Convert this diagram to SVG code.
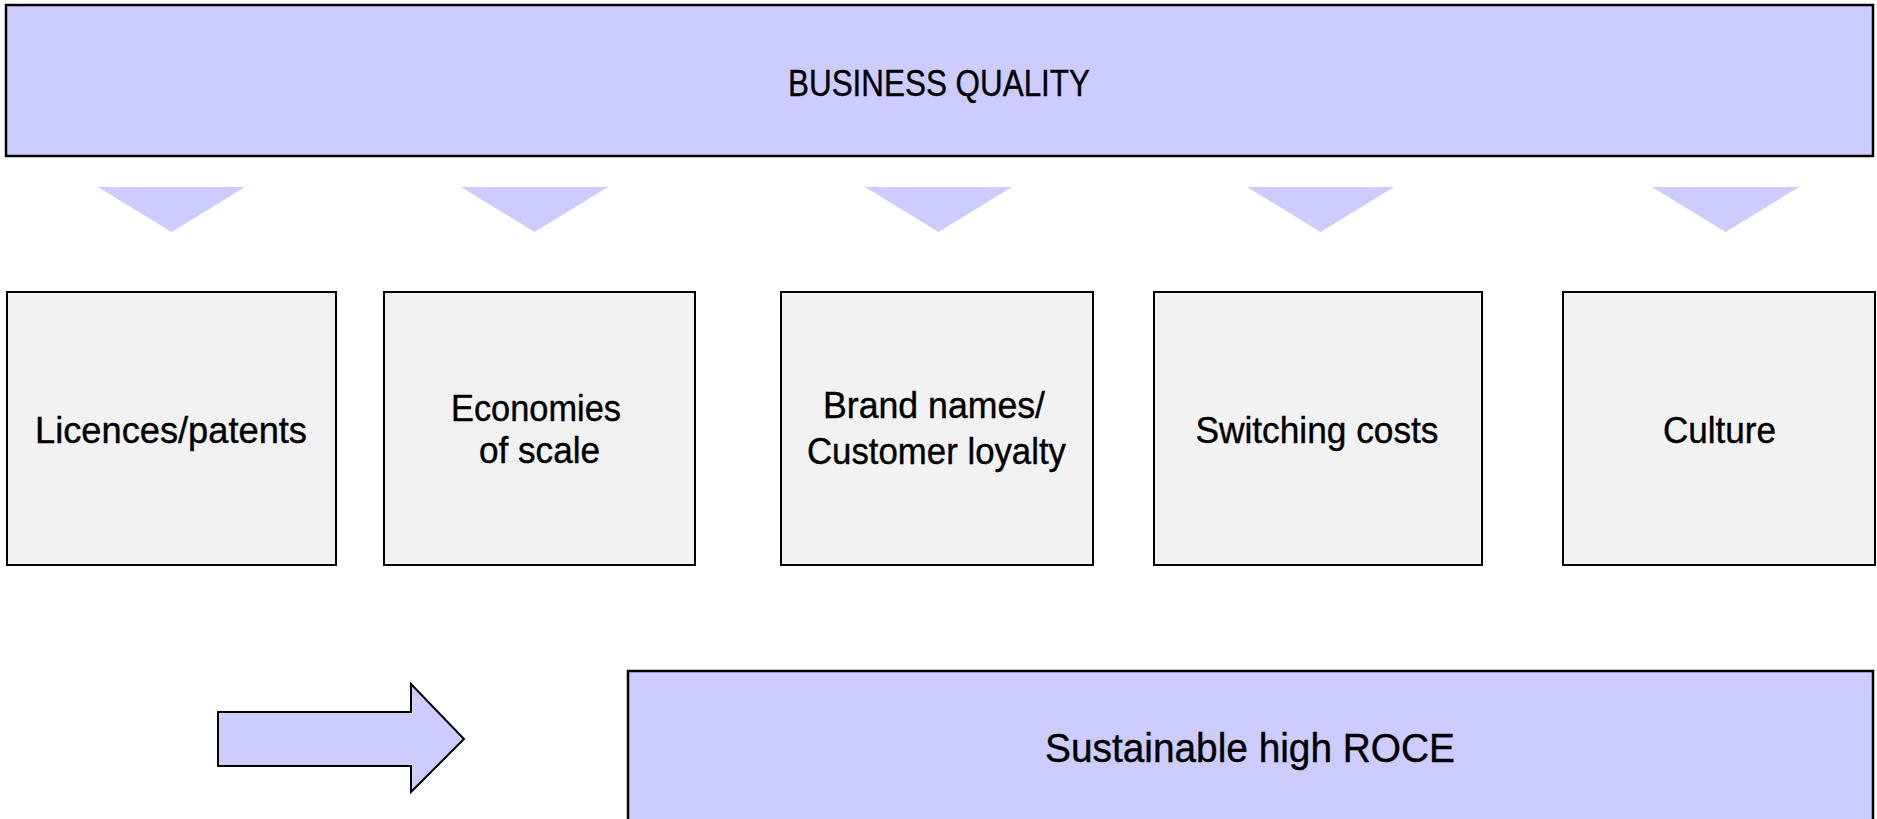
<svg xmlns="http://www.w3.org/2000/svg" width="1877" height="819" viewBox="0 0 1877 819">
  <style>
    .band { fill: #CCCCFF; stroke: #000; stroke-width: 2.5; }
    .box { fill: #F2F2F2; stroke: #000; stroke-width: 2; }
    .tri { fill: #CCCCFF; stroke: none; }
    .lbl { font-family: "Liberation Sans", Arial, sans-serif; font-size: 36px; fill: #000; stroke: #000; stroke-width: 0.4; text-anchor: middle; }
    .big { font-size: 40px; }
  </style>
  <rect width="1877" height="819" fill="#fff"/>

  <g id="business-quality">
    <rect class="band" x="6" y="5" width="1867" height="151"/>
    <text class="lbl" x="939" y="96" textLength="302" lengthAdjust="spacingAndGlyphs">BUSINESS QUALITY</text>
  </g>

  <g id="connectors">
    <polygon class="tri" points="98,187 245,187 171.5,232"/>
    <polygon class="tri" points="461,187 608,187 534.5,232"/>
    <polygon class="tri" points="865,187 1012,187 938.5,232"/>
    <polygon class="tri" points="1247,187 1394,187 1320.5,232"/>
    <polygon class="tri" points="1652,187 1799,187 1725.5,232"/>
    <polygon id="flow-arrow" points="218,712 411,712 411,684 464,739 411,792 411,766 218,766" fill="#CCCCFF" stroke="#000" stroke-width="2" stroke-linejoin="miter"/>
  </g>

  <g id="licences">
    <rect class="box" x="7" y="292" width="329" height="273"/>
    <text class="lbl" x="171" y="443" textLength="272" lengthAdjust="spacingAndGlyphs">Licences/patents</text>
  </g>

  <g id="economies">
    <rect class="box" x="384" y="292" width="311" height="273"/>
    <text class="lbl" x="536" y="421" textLength="170" lengthAdjust="spacingAndGlyphs">Economies</text>
    <text class="lbl" x="539.5" y="463" textLength="121" lengthAdjust="spacingAndGlyphs">of scale</text>
  </g>

  <g id="brand">
    <rect class="box" x="781" y="292" width="312" height="273"/>
    <text class="lbl" x="934" y="418" textLength="222" lengthAdjust="spacingAndGlyphs">Brand names/</text>
    <text class="lbl" x="936.5" y="464" textLength="259" lengthAdjust="spacingAndGlyphs">Customer loyalty</text>
  </g>

  <g id="switching">
    <rect class="box" x="1154" y="292" width="328" height="273"/>
    <text class="lbl" x="1317" y="443" textLength="243" lengthAdjust="spacingAndGlyphs">Switching costs</text>
  </g>

  <g id="culture">
    <rect class="box" x="1563" y="292" width="312" height="273"/>
    <text class="lbl" x="1719.5" y="443" textLength="113" lengthAdjust="spacingAndGlyphs">Culture</text>
  </g>

  <g id="roce">
    <rect class="band" x="628" y="671" width="1245" height="160"/>
    <text class="lbl big" x="1250" y="762" textLength="410" lengthAdjust="spacingAndGlyphs">Sustainable high ROCE</text>
  </g>
</svg>
